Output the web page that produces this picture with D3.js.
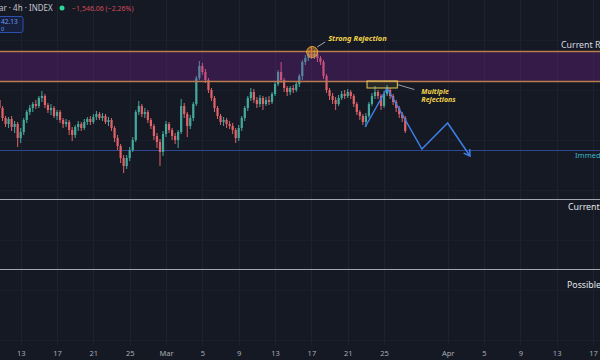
<!DOCTYPE html>
<html><head><meta charset="utf-8">
<script src="https://cdn.jsdelivr.net/npm/d3@7"></script>
<style>html,body{margin:0;padding:0;background:#151924;overflow:hidden}svg{display:block}</style>
</head><body><svg id="c" width="600" height="360"></svg>
<script>
// ---- data (price in thousands) ----
const candleStart = "2023-02-10T16:00:00Z";
const candleHours = 8;
const opens = [70.0,69.2,68.2,67.6,68.1,67.3,67.6,66.2,66.8,68.0,
68.8,69.2,69.6,69.4,70.2,70.4,69.5,69.0,69.2,68.4,
68.8,68.0,67.6,67.8,67.0,66.5,67.3,67.6,67.2,67.8,
68.1,67.8,68.3,68.6,68.2,68.4,67.8,68.0,67.2,66.2,
65.4,64.2,63.4,64.2,65.0,66.0,68.8,69.4,68.6,68.8,
68.0,67.4,66.4,65.8,64.8,66.6,67.6,67.0,66.4,66.0,
66.8,69.4,68.6,67.4,68.2,69.6,72.2,73.4,72.8,72.0,
71.0,70.2,69.2,68.4,67.8,68.0,67.6,67.4,67.0,66.2,
67.2,68.2,69.2,70.2,70.8,70.0,69.6,70.2,69.6,70.0,
69.8,70.6,71.6,72.8,72.0,71.2,70.8,71.2,71.0,71.6,
72.4,73.8,74.2,74.6,74.4,74.6,74.2,73.8,72.4,71.0,
70.4,70.0,69.6,70.2,70.6,70.4,70.8,70.4,69.6,68.8,
68.4,67.8,68.4,69.6,70.4,70.8,70.4,69.4,70.6,71.0,
70.4,69.8,69.2,68.6,68.2];
const highs = [70.2,69.4,68.4,68.3,68.4,67.9,67.8,67.2,68.2,69.0,
69.5,69.8,70.0,70.4,70.9,70.6,69.7,69.6,69.4,69.0,
69.0,68.2,68.1,68.0,67.3,67.5,67.9,67.8,68.1,68.3,
68.4,68.6,68.9,68.8,68.7,68.6,68.3,68.2,67.4,66.5,
65.6,64.5,64.5,65.3,66.3,69.0,69.9,69.6,69.2,69.0,
68.2,67.6,66.7,66.1,66.9,67.9,67.8,67.2,66.7,67.0,
70.1,69.7,68.8,68.5,69.8,72.4,73.9,73.7,73.1,72.2,
71.2,70.4,69.4,68.6,68.3,68.2,67.9,67.7,67.2,67.5,
68.4,69.4,70.4,71.2,71.1,70.3,70.5,70.4,70.3,70.4,
70.8,71.8,73.0,73.8,72.2,71.4,71.4,71.5,71.8,72.6,
74.0,74.5,74.9,75.3,75.0,74.9,74.4,74.0,72.6,71.2,
70.7,70.3,70.5,70.9,71.0,71.1,71.0,70.6,69.8,69.0,
68.6,68.7,69.8,70.7,71.4,71.0,70.6,70.9,71.5,71.2,
70.6,70.0,69.4,68.8,68.4];
const lows = [69.0,67.9,67.3,67.2,66.9,66.7,65.3,65.7,66.5,67.7,
68.5,68.8,69.1,69.2,69.8,69.2,68.7,68.5,68.2,68.0,
67.7,67.2,67.3,66.5,65.9,66.2,66.9,66.9,67.0,67.5,
67.5,67.6,68.0,68.0,67.9,67.6,67.4,66.9,65.8,65.0,
63.7,62.7,63.1,63.9,64.8,65.8,68.5,68.3,68.2,67.7,
67.1,66.0,65.2,63.4,64.4,66.3,66.7,66.0,65.6,65.2,
66.6,68.2,66.3,67.1,67.9,69.4,72.0,72.5,71.7,70.7,
69.9,68.8,68.1,67.5,67.4,67.2,67.1,66.6,65.7,65.9,
66.9,67.9,68.9,69.9,69.7,69.2,69.3,69.0,69.4,69.5,
69.6,70.4,71.4,71.7,70.8,70.4,70.5,70.7,70.8,71.3,
72.0,73.5,73.9,74.1,74.1,73.8,73.5,72.1,70.7,70.0,
69.6,69.0,69.4,70.0,70.1,70.2,70.1,69.3,68.5,68.0,
67.5,67.3,68.2,69.4,70.1,70.1,69.0,69.2,70.4,70.1,
69.5,68.8,68.2,67.8,66.7];
const closes = [69.2,68.2,67.6,68.1,67.3,67.6,66.2,66.8,68.0,68.8,
69.2,69.6,69.4,70.2,70.4,69.5,69.0,69.2,68.4,68.8,
68.0,67.6,67.8,67.0,66.5,67.3,67.6,67.2,67.8,68.1,
67.8,68.3,68.6,68.2,68.4,67.8,68.0,67.2,66.2,65.4,
64.2,63.4,64.2,65.0,66.0,68.8,69.4,68.6,68.8,68.0,
67.4,66.4,65.8,64.8,66.6,67.6,67.0,66.4,66.0,66.8,
69.4,68.6,67.4,68.2,69.6,72.2,73.4,72.8,72.0,71.0,
70.2,69.2,68.4,67.8,68.0,67.6,67.4,67.0,66.2,67.2,
68.2,69.2,70.2,70.8,70.0,69.6,70.2,69.6,70.0,69.8,
70.6,71.6,72.8,72.0,71.2,70.8,71.2,71.0,71.6,72.4,
73.8,74.2,74.6,74.4,74.6,74.2,73.8,72.4,71.0,70.4,
70.0,69.6,70.2,70.6,70.4,70.8,70.4,69.6,68.8,68.4,
67.8,68.4,69.6,70.4,70.8,70.4,69.4,70.6,71.0,70.4,
69.8,69.2,68.6,68.2,66.9];

const tickDates = ["2023-02-13","2023-02-17","2023-02-21","2023-02-25","2023-03-01","2023-03-05","2023-03-09","2023-03-13","2023-03-17","2023-03-21","2023-03-25","2023-04-01","2023-04-05","2023-04-09","2023-04-13","2023-04-17"];
const tickLabels = ["13","17","21","25","Mar","5","9","13","17","21","25","Apr","5","9","13","17"];

const resistanceZone = [71.85, 74.85];
const supportLevels = [64.95, 60.05, 53.05];
const levelNames = ["Current Resistance","Immediate Support","Current Support","Possible Support"];

const projDates = ["2023-03-22T22:00:00Z","2023-03-25T08:00:00Z","2023-03-29T04:00:00Z","2023-04-01T00:00:00Z","2023-04-03T11:00:00Z"];
const projPrices = [67.3, 71.2, 65.1, 67.7, 64.4];

const strongRejection = {date:"2023-03-17T02:00:00Z", price:74.8, label:"Strong Rejection"};
const rejectionBox = {from:"2023-03-23T03:00:00Z", to:"2023-03-26T11:00:00Z", low:71.2, high:71.9, label:["Multiple","Rejections"]};

const header = {name:"ar · 4h · INDEX", change:"−1,546.06 (−2.26%)", box:["42.13","0"]};

// ---- chart ----
const W=600,H=360;
const svg=d3.select("#c");
const x=d3.scaleUtc().domain([new Date("2023-02-13T00:00:00Z"),new Date("2023-04-17T00:00:00Z")]).range([20.7,593]);
const y=d3.scaleLinear().domain([44,80]).range([360,0]);
const t0=new Date(candleStart).getTime();
const candles=closes.map((c,i)=>({t:new Date(t0+i*candleHours*3600e3),o:opens[i],h:highs[i],l:lows[i],c}));

svg.append("rect").attr("width",W).attr("height",H).attr("fill","#151924");

// grid
const gridG=svg.append("g");
gridG.selectAll("line.v").data(tickDates).join("line")
 .attr("x1",d=>Math.round(x(new Date(d)))+0.5).attr("x2",d=>Math.round(x(new Date(d)))+0.5)
 .attr("y1",0).attr("y2",345).attr("stroke","#1d2130").attr("stroke-width",1);
gridG.selectAll("line.h").data(d3.range(46,80,5)).join("line")
 .attr("x1",0).attr("x2",W).attr("y1",d=>Math.round(y(d))+0.5).attr("y2",d=>Math.round(y(d))+0.5)
 .attr("stroke","#1b1f2d").attr("stroke-width",1);

// support lines
svg.append("line").attr("x1",0).attr("x2",W).attr("y1",y(supportLevels[0])).attr("y2",y(supportLevels[0]))
 .attr("stroke","#2e4792").attr("stroke-width",1.2);
svg.selectAll("line.gs").data(supportLevels.slice(1)).join("line")
 .attr("x1",0).attr("x2",W).attr("y1",d=>y(d)).attr("y2",d=>y(d)).attr("stroke","#a3a6ae").attr("stroke-width",1);

// candles
const up="#44a99b", dn="#e0636a";
const cg=svg.append("g");
cg.selectAll("line").data(candles).join("line")
 .attr("x1",d=>x(d.t)).attr("x2",d=>x(d.t)).attr("y1",d=>y(d.h)).attr("y2",d=>y(d.l))
 .attr("stroke",d=>d.c>=d.o?up:dn).attr("stroke-width",1);
cg.selectAll("rect").data(candles).join("rect")
 .attr("x",d=>x(d.t)-1.1).attr("width",2.2)
 .attr("y",d=>y(Math.max(d.o,d.c))).attr("height",d=>Math.max(1,Math.abs(y(d.o)-y(d.c))))
 .attr("fill",d=>d.c>=d.o?up:dn);

// resistance zone
svg.append("rect").attr("x",0).attr("width",W).attr("y",y(resistanceZone[1])).attr("height",y(resistanceZone[0])-y(resistanceZone[1]))
 .attr("fill","rgba(140,35,170,0.27)");
svg.selectAll("line.z").data(resistanceZone).join("line")
 .attr("x1",0).attr("x2",W).attr("y1",d=>y(d)).attr("y2",d=>y(d)).attr("stroke","#b97d4c").attr("stroke-width",1.6);

// projection path
const proj=projDates.map((d,i)=>[x(new Date(d)),y(projPrices[i])]);
svg.append("path").attr("d",d3.line()(proj)).attr("fill","none").attr("stroke","#3d7fe6").attr("stroke-width",1.5);
{
 const [ax,ay]=proj[proj.length-1],[bx,by]=proj[proj.length-2];
 const ang=Math.atan2(ay-by,ax-bx), L=7;
 const p1=[ax-L*Math.cos(ang-0.55),ay-L*Math.sin(ang-0.55)], p2=[ax-L*Math.cos(ang+0.55),ay-L*Math.sin(ang+0.55)];
 svg.append("path").attr("d",d3.line()([p1,[ax,ay],p2])).attr("fill","none").attr("stroke","#3d7fe6").attr("stroke-width",1.5);
}

// strong rejection marker
const sx=x(new Date(strongRejection.date)), sy=y(strongRejection.price);
svg.append("circle").attr("cx",sx).attr("cy",sy).attr("r",5.5).attr("fill","rgba(240,160,40,0.45)").attr("stroke","#e8a040").attr("stroke-width",1);
svg.append("line").attr("x1",sx+5).attr("y1",sy-5).attr("x2",sx+13).attr("y2",sy-10).attr("stroke","#c9ccd3").attr("stroke-width",0.8);
svg.append("text").attr("x",sx+16).attr("y",sy-11).text(strongRejection.label)
 .attr("fill","#f2d34a").attr("font-family","'Noto Sans',sans-serif").attr("font-size",7.5).attr("font-weight",700).attr("font-style","italic");

// rejection box
const bx0=x(new Date(rejectionBox.from)), bx1=x(new Date(rejectionBox.to));
svg.append("rect").attr("x",bx0).attr("y",y(rejectionBox.high)).attr("width",bx1-bx0).attr("height",y(rejectionBox.low)-y(rejectionBox.high))
 .attr("fill","rgba(242,211,74,0.08)").attr("stroke","#e9cc54").attr("stroke-width",1);
const bmid=(y(rejectionBox.high)+y(rejectionBox.low))/2;
svg.append("line").attr("x1",bx1).attr("y1",bmid).attr("x2",bx1+17).attr("y2",bmid+5).attr("stroke","#b9bcc4").attr("stroke-width",0.8);
svg.selectAll("text.mr").data(rejectionBox.label).join("text")
 .attr("x",bx1+24).attr("y",(d,i)=>bmid+9+i*8).text(d=>d)
 .attr("fill","#f2d34a").attr("font-family","'Noto Sans',sans-serif").attr("font-size",7).attr("font-weight",700).attr("font-style","italic");

// level labels
const labelPos=[[561,y(resistanceZone[1])-4,"#d8dbe2",8.8],[575,y(supportLevels[0])+7.5,"#3ab4c6",7.6],[568,y(supportLevels[1])+10,"#e3e5ea",8.8],[567,y(supportLevels[2])+18,"#e3e5ea",8.8]];
svg.selectAll("text.lv").data(levelNames).join("text")
 .attr("x",(d,i)=>labelPos[i][0]).attr("y",(d,i)=>labelPos[i][1]).attr("fill",(d,i)=>labelPos[i][2])
 .attr("font-family","'Noto Sans',sans-serif").attr("font-size",(d,i)=>labelPos[i][3]).text(d=>d);

// x axis
const ax=svg.append("g").attr("transform","translate(0,347)")
 .call(d3.axisBottom(x).tickValues(tickDates.map(d=>new Date(d+"T00:00:00Z"))).tickFormat((d,i)=>tickLabels[i]).tickSize(0).tickPadding(4));
ax.select(".domain").remove();
ax.selectAll("text").attr("fill","#a9acb4").attr("font-family","'Noto Sans',sans-serif").attr("font-size",7.5);

// header
svg.append("text").attr("x",-1).attr("y",11).text(header.name).attr("fill","#c3c6ce").attr("font-family","'Noto Sans',sans-serif").attr("font-size",8);
svg.append("circle").attr("cx",62).attr("cy",8).attr("r",2.5).attr("fill","#2fd49d");
svg.append("text").attr("x",72).attr("y",11).text(header.change).attr("fill","#d24b58").attr("font-family","'Noto Sans',sans-serif").attr("font-size",7);
svg.append("rect").attr("x",-2).attr("y",16.5).attr("width",25).attr("height",16).attr("rx",2).attr("fill","#16203c").attr("stroke","#2c4fb0").attr("stroke-width",1);
svg.append("text").attr("x",1).attr("y",24).text(header.box[0]).attr("fill","#6e9cf5").attr("font-family","'Noto Sans',sans-serif").attr("font-size",6.5);
svg.append("text").attr("x",1).attr("y",31).text(header.box[1]).attr("fill","#6e9cf5").attr("font-family","'Noto Sans',sans-serif").attr("font-size",5.5);
</script></body></html>
